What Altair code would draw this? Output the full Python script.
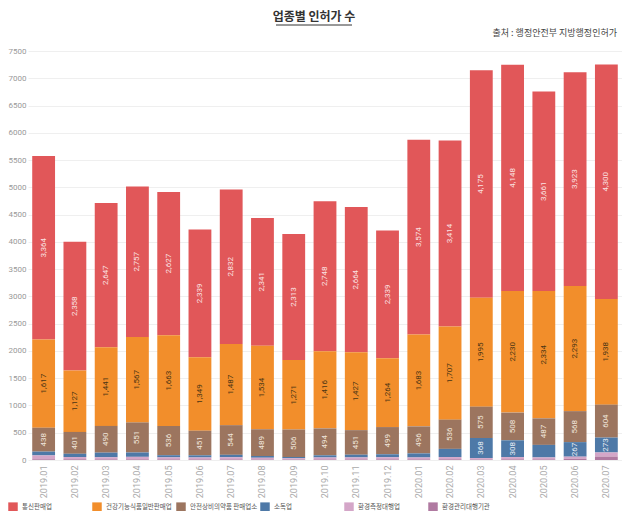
import altair as alt
import pandas as pd

months = ["2019.01", "2019.02", "2019.03", "2019.04", "2019.05", "2019.06", "2019.07",
          "2019.08", "2019.09", "2019.10", "2019.11", "2019.12", "2020.01", "2020.02",
          "2020.03", "2020.04", "2020.05", "2020.06", "2020.07"]

series_names = ["통신판매업", "건강기능식품일반판매업", "안전상비의약품 판매업소", "소독업",
                "환경측정대행업", "환경관리대행기관"]

telecom = [3364, 2358, 2647, 2757, 2627, 2339, 2832, 2341, 2313, 2748, 2664, 2339, 3574, 3414,
           4175, 4148, 3661, 3923, 4300]
health = [1617, 1127, 1441, 1567, 1663, 1349, 1487, 1534, 1271, 1416, 1427, 1264, 1683, 1707,
          1995, 2230, 2334, 2293, 1938]
pharmacy = [438, 401, 490, 551, 536, 451, 544, 489, 506, 494, 451, 499, 496, 536,
            575, 508, 487, 568, 604]
disinfect = [70, 60, 85, 80, 40, 40, 45, 35, 25, 40, 50, 55, 75, 150,
             368, 308, 230, 267, 273]
env_measure = [70, 40, 38, 45, 36, 34, 38, 28, 20, 35, 36, 38, 34, 40,
               25, 40, 35, 40, 75]
env_manage = [14, 14, 12, 13, 12, 12, 12, 11, 10, 11, 11, 12, 12, 14,
              10, 13, 12, 21, 63]

y_ticks = list(range(0, 7501, 500))

colors = ["#E15759", "#F28E2B", "#9C755F", "#4E79A7", "#D4A6C8", "#B07AA1"]
text_colors = ["#fbe3e3", "#4a3514", "#f1e6dc", "#e6edf5", "#ffffff", "#ffffff"]

all_series = [telecom, health, pharmacy, disinfect, env_measure, env_manage]
rows = []
for si, (name, vals) in enumerate(zip(series_names, all_series)):
    for m, v in zip(months, vals):
        rows.append({"month": m, "series": name, "value": v,
                     "ord": len(series_names) - 1 - si, "tcolor": text_colors[si]})
df = pd.DataFrame(rows)

FONT = "Noto Sans CJK KR"
NUMFONT = "Roboto"

x_axis = alt.Axis(labelAngle=270, labelColor="#aaaaaa", labelFontSize=9,
                  labelFont=NUMFONT, ticks=False, domain=False, labelPadding=5, grid=False)
y_axis = alt.Axis(values=y_ticks, format="d", labelColor="#999999",
                  labelFontSize=8, labelFont=NUMFONT, ticks=False, domain=False,
                  gridColor="#efefef", labelPadding=2, labelOverlap=False)
x_scale = alt.Scale(paddingInner=0.27, paddingOuter=0.135)
y_scale = alt.Scale(domain=[0, 7500], nice=False)

base = alt.Chart(df).transform_stack(
    stack="value", groupby=["month"], as_=["y0", "y1"],
    sort=[alt.SortField("ord", order="ascending")]
).transform_calculate(mid="(datum.y0 + datum.y1) / 2")

bars = base.mark_bar().encode(
    x=alt.X("month:O", sort=months, title=None, scale=x_scale, axis=x_axis),
    y=alt.Y("y0:Q", title=None, scale=y_scale, axis=y_axis),
    y2="y1:Q",
    color=alt.Color("series:N", sort=series_names,
                    scale=alt.Scale(domain=series_names, range=colors),
                    legend=alt.Legend(title=None, orient="none", legendX=-20, legendY=451,
                                      direction="horizontal", columns=6, gridAlign="all",
                                      symbolType="square", symbolSize=90, symbolStrokeWidth=0,
                                      labelFontSize=6.5, labelFont=FONT, labelColor="#555555",
                                      columnPadding=2, padding=0, labelOffset=4)),
)

labels = base.transform_filter("datum.value >= 260").mark_text(
    angle=270, fontSize=8, font=NUMFONT, baseline="middle", align="center"
).encode(
    x=alt.X("month:O", sort=months, title=None, scale=x_scale, axis=x_axis),
    y=alt.Y("mid:Q", title=None, scale=y_scale, axis=y_axis),
    text=alt.Text("value:Q", format=","),
    color=alt.Color("tcolor:N", scale=None, legend=None),
)

title_df = pd.DataFrame({"t": ["업종별 인허가 수"]})
sub_df = pd.DataFrame({"t": ["출처 : 행정안전부 지방행정인허가"]})

title = alt.Chart(title_df).mark_text(
    fontSize=12, fontWeight="bold", font=FONT, color="#333333", align="center", baseline="middle"
).encode(text="t:N", x=alt.value(286), y=alt.value(-34))

underline = alt.Chart(title_df).mark_rule(color="#333333", strokeWidth=1).encode(
    x=alt.value(248), x2=alt.value(324), y=alt.value(-26))

subtitle = alt.Chart(sub_df).mark_text(
    fontSize=9, font=FONT, color="#444444", align="right", baseline="middle"
).encode(text="t:N", x=alt.value(589), y=alt.value(-18))

chart = alt.layer(bars, labels, title, underline, subtitle).resolve_scale(
    color="independent"
).properties(
    width=594, height=409,
    autosize=alt.AutoSizeParams(type="none"),
    padding={"left": 20, "top": 43, "right": 0, "bottom": 51},
).configure_view(stroke=None)

chart.save("out.html", embed_options={"renderer": "svg", "actions": False})
